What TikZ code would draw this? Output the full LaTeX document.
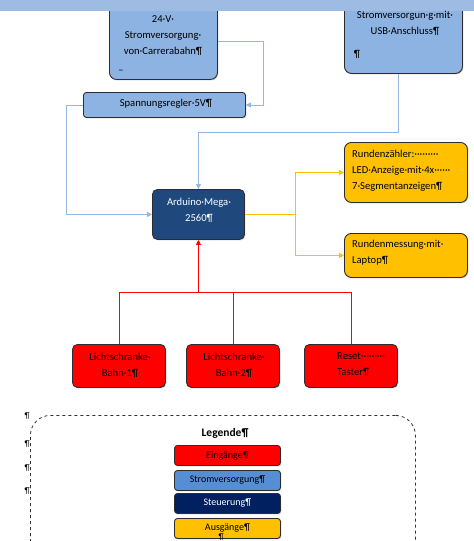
\documentclass[tikz,border=0pt]{standalone}
\usepackage{fontspec}
\setmainfont{Carlito}
\usetikzlibrary{arrows.meta,shadows,calc}
\definecolor{pwr}{RGB}{141,179,226}
\definecolor{pline}{RGB}{149,183,226}
\definecolor{ctrl}{RGB}{31,73,125}
\definecolor{outc}{RGB}{255,192,0}
\definecolor{inc}{RGB}{255,0,0}
\definecolor{legpwr}{RGB}{85,142,213}
\definecolor{legctrl}{RGB}{0,32,96}
\definecolor{topbar}{RGB}{157,187,227}
\definecolor{bord}{RGB}{45,45,45}
\tikzset{
  box/.style={draw=bord, line width=0.9pt, rounded corners=7pt, inner sep=0pt,
    anchor=north west, drop shadow={shadow xshift=1pt, shadow yshift=-1pt, opacity=0.35, fill=gray}},
  lbox/.style={box, rounded corners=3pt, minimum width=106pt, minimum height=20pt,
    font=\fontsize{10}{11}\selectfont},
  txt/.style={inner sep=0pt, font=\fontsize{10.6}{16}\selectfont},
  ptxt/.style={inner sep=0pt, font=\fontsize{8.5}{10}\selectfont},
  tip/.style={-{Triangle[length=5pt,width=5pt]}},
  pwrline/.style={draw=pline, line width=0.8pt, tip},
  outline/.style={draw=outc, line width=0.8pt, tip},
  inline/.style={draw=inc, line width=0.8pt},
}
\begin{document}
\begin{tikzpicture}[x=1pt,y=-1pt]
\useasboundingbox (0,0) rectangle (474,541);
% boxes
\node[box, fill=pwr, minimum width=108pt, minimum height=77pt] (carr) at (109,2) {};
\node[box, fill=pwr, minimum width=118pt, minimum height=71pt] (usb) at (344,2) {};
\node[box, fill=pwr, rounded corners=3pt, minimum width=162pt, minimum height=25pt] (regler) at (83,92) {};
\node[box, fill=ctrl, rounded corners=5pt, minimum width=92pt, minimum height=50pt] (ard) at (152,189) {};
\node[box, fill=outc, minimum width=123pt, minimum height=60pt] (rz) at (344,142) {};
\node[box, fill=outc, minimum width=123pt, minimum height=44pt] (rm) at (344,233) {};
\node[box, fill=inc, rounded corners=5pt, minimum width=93pt, minimum height=43pt] (r1) at (72,344) {};
\node[box, fill=inc, rounded corners=5pt, minimum width=93pt, minimum height=43pt] (r2) at (186,344) {};
\node[box, fill=inc, rounded corners=5pt, minimum width=93pt, minimum height=43pt] (r3) at (304,344) {};
% top bar
\fill[topbar] (0,0) rectangle (474,11);
% texts
\node[txt, align=center] (tcarr) at (163,36) {24·V·\\Stromversorgung·\\von·Carrerabahn¶};
\node[txt] (tdash) at (121,72) {–};
\node[txt, align=center] (tusb) at (405,23) {Stromversorgun·g·mit·\\USB·Anschluss¶};
\node[txt] (tusbp) at (357,54) {¶};
\node[txt] (treg) at (166,104) {Spannungsregler·5V¶};
\node[txt, align=center, text=white] (tard) at (199,210) {Arduino·Mega·\\2560¶};
\node[txt, align=left, anchor=west] (trz) at (352,171) {Rundenzähler:·········\\LED·Anzeige·mit·4x······\\7·Segmentanzeigen¶};
\node[txt, align=left, anchor=west] (trm) at (352,253) {Rundenmessung·mit·\\Laptop¶};
\node[txt, align=center] (tr1) at (120,365) {Lichtschranke·\\Bahn·1¶};
\node[txt, align=center] (tr2) at (234,365) {Lichtschranke·\\Bahn·2¶};
\node[txt, align=left, anchor=west] (tr3) at (337,365) {Reset·········\\Taster¶};
% connectors power
\coordinate (cr) at ($(regler.east)+(17,0)$);
\draw[pwrline] (carr.east) -| (cr) -- (regler.east);
\draw[pwrline] (regler.west) -- ++(-17,0) |- (ard.west);
\coordinate (cu) at ([xshift=-5pt]usb.south);
\draw[pwrline] (cu) -- ++(0,58) -| (ard.north);
% outputs
\coordinate (cy) at ($(ard.east)+(50,0)$);
\draw[outline] (ard.east) -- (cy) |- (rz.west);
\draw[outline] (cy) |- (rm.west);
% inputs
\coordinate (cj) at ($(ard.south)+(0,53)$);
\draw[inline, tip] (cj) -- (ard.south);
\draw[inline] (r1.north) -- ++(0,-52) -| (r3.north);
\draw[inline] (r2.north) -- ++(0,-52);
% legend
\node[draw=black!80, dashed, line width=0.8pt, rounded corners=20pt, minimum width=385pt, minimum height=150pt, anchor=north west, inner sep=0pt] (legframe) at (30,415) {};
\node[inner sep=0pt, font=\fontsize{11.5}{13}\selectfont\bfseries] (legtitle) at (225,433) {Legende¶};
\node[lbox, fill=inc] (l1) at (174,445) {Eingänge¶};
\node[lbox, fill=legpwr] (l2) at (174,470) {Stromversorgung¶};
\node[lbox, fill=legctrl, text=white] (l3) at (174,493) {Steuerung¶};
\node[lbox, fill=outc] (l4) at (174,518) {Ausgänge¶};
\node[ptxt] (p1) at (27,416) {¶};
\node[ptxt] (p2) at (27,444) {¶};
\node[ptxt] (p3) at (27,468) {¶};
\node[ptxt] (p4) at (27,491) {¶};
\node[ptxt, anchor=north] (p5) at (221,534) {¶};
\end{tikzpicture}
\end{document}
